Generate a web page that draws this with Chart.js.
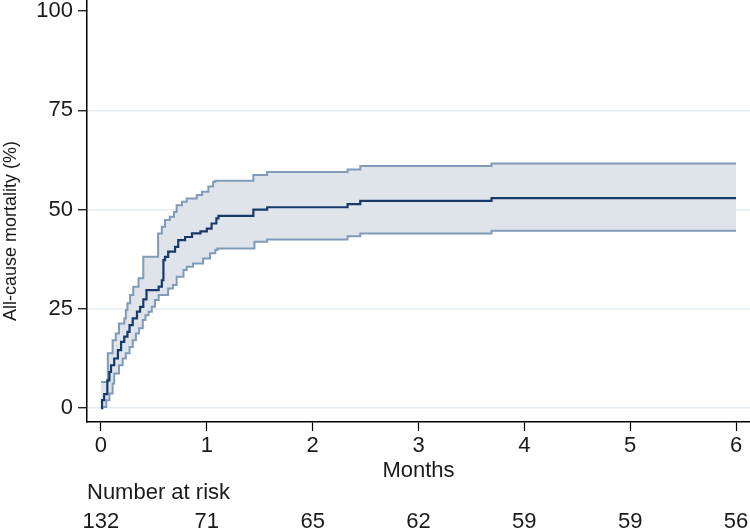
<!DOCTYPE html>
<html>
<head>
<meta charset="utf-8">
<script src="https://cdn.jsdelivr.net/npm/chart.js@4.4.1/dist/chart.umd.min.js"></script>
<style>
  html, body { margin: 0; padding: 0; background: #fff; }
  #wrap { width: 750px; height: 530px; }
</style>
</head>
<body>
<div id="wrap"><canvas id="kmChart" width="750" height="530"></canvas></div>
<script>
// Kaplan-Meier style cumulative mortality

// point estimate: step times (months) and cumulative mortality (%)
const estTime = [0, 0.01, 0.03, 0.06, 0.08, 0.095, 0.125, 0.16, 0.19, 0.22, 0.25, 0.27, 0.30, 0.34, 0.37, 0.40,
  0.43, 0.545, 0.575, 0.59, 0.605, 0.635, 0.70, 0.73, 0.795, 0.86, 0.94, 1.0, 1.045, 1.09, 1.11, 1.44, 1.57, 2.33, 2.45, 3.69, 6.0];
const estPct = [0, 2.0, 3.5, 7.0, 9.1, 10.8, 12.5, 14.6, 16.7, 18.0, 19.2, 20.9, 22.6, 24.3, 25.5, 27.4,
  29.7, 30.6, 32.2, 37.3, 38.1, 39.4, 40.6, 42.3, 43.1, 44.0, 44.5, 45.2, 46.5, 47.8, 48.4, 50.0, 50.6, 51.4, 52.2, 52.9, 52.9];

// upper confidence limit
const upperTime = [0, 0.065, 0.11, 0.14, 0.17, 0.22, 0.235, 0.25, 0.275, 0.305, 0.355, 0.40, 0.54, 0.575, 0.605,
  0.65, 0.69, 0.715, 0.765, 0.81, 0.905, 0.955, 1.015, 1.06, 1.08, 1.44, 1.57, 2.33, 2.45, 3.69, 6.0];
const upperPct = [6.6, 13.8, 17.1, 18.8, 21.3, 22.6, 24.7, 26.4, 28.5, 30.6, 32.7, 38.1, 44.0, 45.7, 47.4,
  48.2, 49.4, 51.1, 52.0, 52.8, 53.7, 54.5, 55.8, 57.0, 57.3, 58.7, 59.5, 60.1, 61.0, 61.6, 61.6];

// lower confidence limit
const lowerTime = [0, 0.015, 0.05, 0.08, 0.11, 0.125, 0.17, 0.205, 0.235, 0.27, 0.30, 0.33, 0.36, 0.395, 0.42,
  0.45, 0.48, 0.51, 0.545, 0.635, 0.68, 0.715, 0.78, 0.81, 0.87, 0.965, 1.03, 1.08, 1.1, 1.45, 1.57, 2.33, 2.45, 3.69, 6.0];
const lowerPct = [0, 0.3, 2.0, 3.7, 6.2, 8.7, 10.8, 12.5, 13.8, 15.4, 17.1, 18.8, 20.1, 22.2, 23.4,
  24.3, 25.5, 27.2, 28.5, 30.1, 31.0, 33.1, 34.8, 35.6, 36.4, 37.7, 39.0, 39.8, 40.2, 41.9, 42.5, 43.3, 44.0, 44.7, 44.7];

// number at risk table
const riskTimes = [0, 1, 2, 3, 4, 5, 6];
const riskCounts = [132, 71, 65, 62, 59, 59, 56];

const yTicks = [0, 25, 50, 75, 100];
const xTicks = [0, 1, 2, 3, 4, 5, 6];

const FONT = '"Liberation Sans", Arial, sans-serif';
const TEXT = '#1a1a1a';

function toPoints(times, vals) {
  return times.map((t, i) => ({ x: t, y: vals[i] }));
}

// texts round the plot: y title, x title and the number-at-risk row
const sideTexts = {
  id: 'sideTexts',
  afterDraw(chart) {
    const ctx = chart.ctx;
    const x = chart.scales.x;
    ctx.save();
    ctx.fillStyle = TEXT;

    ctx.font = '18px ' + FONT;
    ctx.textAlign = 'center';
    ctx.textBaseline = 'middle';
    ctx.save();
    ctx.translate(11, 231);
    ctx.rotate(-Math.PI / 2);
    ctx.fillText('All-cause mortality (%)', 0, 0);
    ctx.restore();

    ctx.font = '22px ' + FONT;
    ctx.fillText('Months', x.getPixelForValue(3), 471);
    ctx.textAlign = 'left';
    ctx.fillText('Number at risk', 87, 493);
    ctx.textAlign = 'center';
    riskTimes.forEach((t, i) => {
      ctx.fillText(String(riskCounts[i]), x.getPixelForValue(t), 522);
    });
    ctx.restore();
  }
};

const ctx = document.getElementById('kmChart').getContext('2d');

new Chart(ctx, {
  type: 'line',
  data: {
    datasets: [
      {
        label: 'Estimate',
        data: toPoints(estTime, estPct),
        stepped: true,
        borderColor: '#173a6a',
        borderWidth: 2.2,
        pointRadius: 0,
        fill: false,
        order: 0
      },
      {
        label: 'Upper CI',
        data: toPoints(upperTime, upperPct),
        stepped: true,
        borderColor: '#7f9bb7',
        borderWidth: 2,
        pointRadius: 0,
        backgroundColor: '#dfe4eb',
        fill: '+1',
        order: 2
      },
      {
        label: 'Lower CI',
        data: toPoints(lowerTime, lowerPct),
        stepped: true,
        borderColor: '#7f9bb7',
        borderWidth: 2,
        pointRadius: 0,
        fill: false,
        order: 1
      }
    ]
  },
  options: {
    responsive: false,
    animation: false,
    layout: { padding: 0 },
    plugins: {
      legend: { display: false },
      tooltip: { enabled: false }
    },
    scales: {
      x: {
        type: 'linear',
        min: -0.132,
        max: 6.132,
        afterBuildTicks: (scale) => { scale.ticks = xTicks.map(v => ({ value: v })); },
        afterFit: (scale) => { scale.height = 108; },
        ticks: {
          color: TEXT,
          font: { family: FONT, size: 22 },
          padding: 2,
          maxRotation: 0
        },
        grid: {
          color: 'rgba(0,0,0,0)',
          drawOnChartArea: false,
          tickColor: '#000',
          tickLength: 9,
          tickWidth: 1.2
        },
        border: { color: '#000', width: 1.5 }
      },
      y: {
        type: 'linear',
        min: -3.5,
        max: 102.8,
        afterBuildTicks: (scale) => { scale.ticks = yTicks.map(v => ({ value: v })); },
        afterFit: (scale) => {
          scale.width = 87;
          scale.paddingTop = 0;
          scale.paddingBottom = 0;
        },
        ticks: {
          color: TEXT,
          font: { family: FONT, size: 22 },
          padding: 5
        },
        grid: {
          color: (c) => (c.tick && c.tick.value === 100 ? 'rgba(0,0,0,0)' : '#e5eef4'),
          lineWidth: 1.5,
          tickColor: '#000',
          tickLength: 9,
          tickWidth: 1.2
        },
        border: { color: '#000', width: 1.5 }
      }
    }
  },
  plugins: [sideTexts]
});
</script>
</body>
</html>
